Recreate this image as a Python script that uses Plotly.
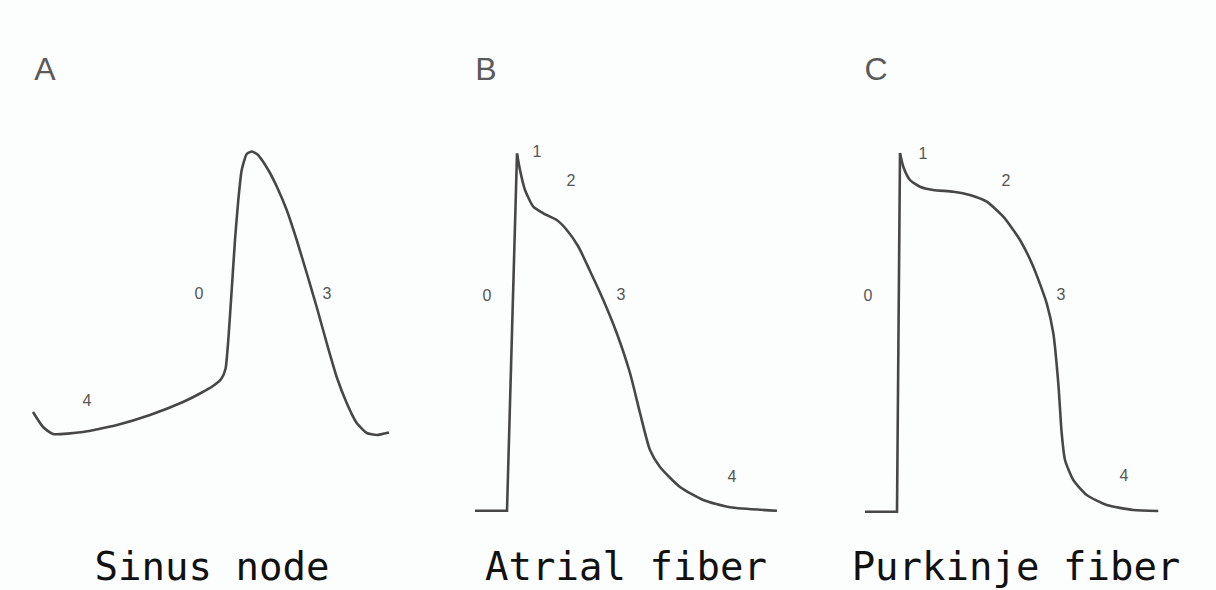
import plotly.graph_objects as go

# ---- data (horizontal position, vertical position; screen-like units, y grows downward)
sinus_x = [33, 43, 53, 83, 117, 150, 183, 200, 213, 221.5, 225.5, 228.3, 231.7, 235, 238.3, 241.7,
           246.7, 252, 258, 263.3, 270, 277, 286.7, 296.7, 306.7, 316.7, 326.7, 336.7, 346.7, 356.7,
           366.7, 376.7, 389]
sinus_y = [412, 427, 434, 432, 425, 415, 402, 393.5, 386, 378.5, 369, 340, 290, 240, 200, 170,
           154, 151.5, 155, 162, 173, 187, 210, 240, 273, 307, 343, 377, 403, 423,
           433, 435, 432.5]

atrial_x = [475, 507, 517, 520, 525, 533.3, 543.3, 556.7, 566, 578, 590, 603.3, 616.7, 630, 640,
            650, 660, 680, 703.3, 730, 777]
atrial_y = [510.7, 510.7, 153.5, 170, 190, 206.7, 213.3, 220, 229, 246, 271, 300, 333, 373, 413,
            450, 467, 487, 500, 507.3, 510.7]

purkinje_x = [865, 897, 900, 903.3, 910, 920, 933.3, 953.3, 970, 986.7, 1003.3, 1020, 1033.3,
              1046.7, 1053.3, 1058.3, 1061.7, 1065, 1073.3, 1086.7, 1106.7, 1133.3, 1158.3]
purkinje_y = [511.7, 511.7, 153, 166.7, 180, 186.7, 190, 191.7, 195, 201.7, 216.7, 240, 266.7,
              303.3, 333.3, 383.3, 433.3, 460, 480, 495, 505, 510, 511]

phase_text = ["4", "0", "3",
              "1", "2", "0", "3", "4",
              "1", "2", "0", "3", "4"]
phase_x = [87, 199, 327,
           537, 571, 487, 621, 732,
           923, 1006, 868, 1061, 1124]
phase_y = [402, 295, 295,
           153, 182, 297, 296, 478,
           155, 182, 297, 296, 477]

panel_letters = ["A", "B", "C"]
panel_x = [45, 486, 876]
panel_y = [72, 72, 72]

captions = ["Sinus node", "Atrial fiber", "Purkinje fiber"]
caption_x = [212, 626, 1016]
caption_y = [570, 570, 570]

LINE = dict(color="#474747", width=2.6)

fig = go.Figure()

# sinus node: one smooth trace
fig.add_trace(go.Scatter(x=sinus_x, y=sinus_y, mode="lines",
                         line=dict(shape="spline", smoothing=0.5, **LINE)))

# atrial + purkinje: straight baseline and upstroke, then smooth repolarisation
for xs, ys in [(atrial_x, atrial_y), (purkinje_x, purkinje_y)]:
    fig.add_trace(go.Scatter(x=xs[:3], y=ys[:3], mode="lines", line=dict(shape="linear", **LINE)))
    fig.add_trace(go.Scatter(x=xs[2:], y=ys[2:], mode="lines",
                             line=dict(shape="spline", smoothing=0.6, **LINE)))

fig.add_trace(go.Scatter(x=phase_x, y=phase_y, mode="text", text=phase_text,
                         textfont=dict(family="Liberation Sans, Arial", size=16, color="#555555")))
fig.add_trace(go.Scatter(x=panel_x, y=panel_y, mode="text", text=panel_letters,
                         textfont=dict(family="Liberation Sans, Arial", size=32, color="#5a5a5a")))
fig.add_trace(go.Scatter(x=caption_x, y=caption_y, mode="text", text=captions,
                         textfont=dict(family="DejaVu Sans Mono, Liberation Mono", size=39, color="#111111")))

fig.update_layout(
    width=1216, height=590,
    margin=dict(l=0, r=0, t=0, b=0),
    paper_bgcolor="#fcfdfd", plot_bgcolor="#fcfdfd",
    showlegend=False,
    xaxis=dict(range=[0, 1216], visible=False, fixedrange=True),
    yaxis=dict(range=[590, 0], visible=False, fixedrange=True),
)

fig.write_html("out.html",
               config={"displayModeBar": False},
               post_script="document.body.style.margin='0';document.body.style.overflow='hidden';")
